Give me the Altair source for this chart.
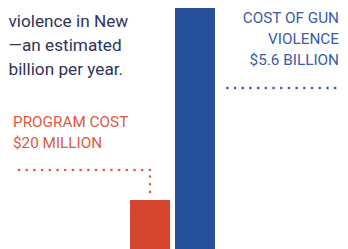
import altair as alt
import pandas as pd

# ---- data ----
categories = ["PROGRAM COST", "COST OF GUN VIOLENCE"]
values_millions = [20, 5600]
bar_colors = ["#d6452d", "#27509b"]

program_label = ["PROGRAM COST", "$20 MILLION"]
violence_label = ["COST OF GUN", "VIOLENCE", "$5.6 BILLION"]
intro_lines = ["violence in New", "\u2014an estimated", "billion per year."]

RED_TEXT = "#dd5a43"
BLUE_TEXT = "#3a5da6"
NAVY = "#2f3459"
COND = "Roboto"

bars_df = pd.DataFrame({"category": categories, "value": values_millions, "color": bar_colors})
prog_df = bars_df.iloc[[0]]
one = alt.Data(values=[{}])

W, H = 332, 245

x_scale = alt.Scale(domain=categories, range=[122, 207], paddingInner=5 / 45, paddingOuter=0)
y_scale = alt.Scale(domain=[0, 92.45], nice=False, zero=True)
X = alt.X("category:N", scale=x_scale, axis=None, sort=categories)
Y = alt.Y("value:Q", scale=y_scale, axis=None)

bars = alt.Chart(bars_df).mark_bar(clip=True).encode(
    x=X, y=Y, color=alt.Color("color:N", scale=None)
)

dot = dict(strokeWidth=2.6, strokeDash=[0.1, 7.6], strokeCap="round")

red_vert = alt.Chart(prog_df).mark_rule(color=RED_TEXT, yOffset=-8, y2Offset=-30, **dot).encode(
    x=X, y=Y, y2=alt.Y2("value:Q")
)
red_horz = alt.Chart(prog_df).mark_rule(color=RED_TEXT, yOffset=-30, **dot).encode(
    x=X, x2=alt.value(5), y=Y
)
blue_horz = alt.Chart(one).mark_rule(color=BLUE_TEXT, **dot).encode(
    x=alt.value(219.3), x2=alt.value(334), y=alt.value(80)
)

red_text = alt.Chart(one).mark_text(
    text=program_label, align="left", baseline="alphabetic", font=COND,
    fontSize=15.3, lineHeight=21.6, color=RED_TEXT
).encode(x=alt.value(5), y=alt.value(118.7))

blue_text = alt.Chart(one).mark_text(
    text=violence_label, align="right", baseline="alphabetic", font=COND,
    fontSize=15.3, lineHeight=20.8, color=BLUE_TEXT
).encode(x=alt.value(331), y=alt.value(15.3))

intro_text = alt.Chart(one).mark_text(
    text=intro_lines, align="left", baseline="alphabetic", font="Roboto",
    fontSize=17.2, lineHeight=24, color=NAVY
).encode(x=alt.value(0.5), y=alt.value(18.7))

chart = alt.layer(
    bars, red_vert, red_horz, blue_horz, red_text, blue_text, intro_text
).properties(
    width=W, height=H, padding=0, autosize=alt.AutoSizeParams(type="none")
).configure_view(stroke=None)

chart.save("out.html", embed_options={"renderer": "svg", "actions": False})
